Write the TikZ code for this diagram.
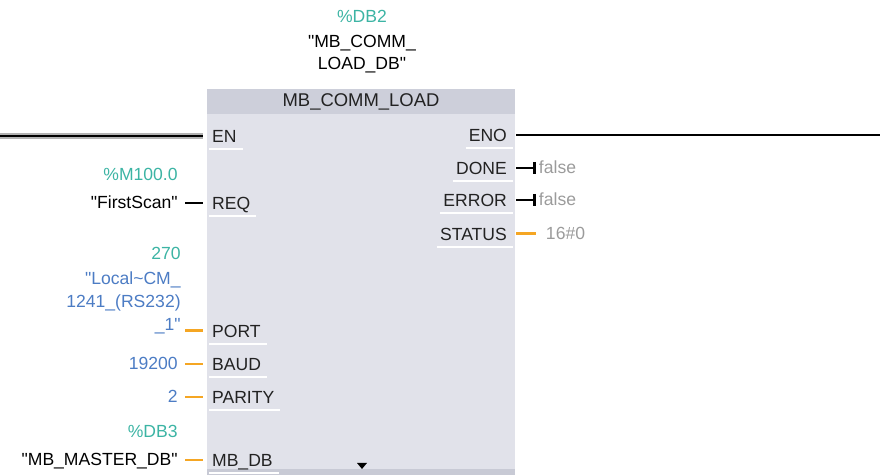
\documentclass[tikz,border=0pt]{standalone}
\usepackage{fontspec}
\setmainfont{Liberation Sans}
\usepackage{tikz}
\usetikzlibrary{arrows.meta,positioning,calc}
\definecolor{fbbody}{HTML}{E1E2EA}
\definecolor{fbhead}{HTML}{CDCFDA}
\definecolor{fbstrip}{HTML}{C8CAD5}
\definecolor{tealtxt}{HTML}{3CB4A4}
\definecolor{bluetxt}{HTML}{4C7CC4}
\definecolor{valgray}{HTML}{9B9B9B}
\definecolor{pintxt}{HTML}{222222}
\definecolor{orangewire}{HTML}{F5A623}
\newcommand{\qt}{\textquotedbl}

\begin{document}
\begin{tikzpicture}[
  x=0.02cm,y=-0.02cm,
  lbl/.style={font=\fontsize{10}{13}\selectfont,inner sep=0pt},
  pinin/.style={lbl,anchor=west,text height=7.2pt,text depth=0pt,inner xsep=5pt,
                inner ysep=3.5pt,text=pintxt},
  pinout/.style={pinin,anchor=east},
  opnd/.style={lbl,anchor=base east,inner xsep=4pt},
  addr/.style={lbl,anchor=base east,text=tealtxt},
  valout/.style={lbl,anchor=base west,inner xsep=1.5pt,text=valgray},
  wire/.style={line width=1.6pt,black},
  owire/.style={line width=1.7pt,orangewire},
  rail/.style={draw=gray!60,double=black,double distance=1.4pt,line width=0.9pt},
  uline/.style={white,line width=0.8pt}
]
  \useasboundingbox (0,0) rectangle (880,475);
  \node[fill=fbbody,minimum width=6.16cm,minimum height=7.72cm,inner sep=0pt] (fb) at (361,282) {};
  \node[fill=fbhead,minimum width=6.16cm,minimum height=0.5cm,inner sep=0pt,anchor=north,
        font=\fontsize{10.5}{13}\selectfont,text=pintxt] (hdr) at (fb.north) {MB\_COMM\_LOAD};
  \fill[fbstrip] ($(fb.south west)+(0,-6)$) rectangle (fb.south east);
  \fill[black] (357,463) -- (367,463) -- (362,469) -- cycle;
  \node[addr,anchor=base] (dbaddr) at (362,23) {\%DB2};
  \node[lbl,align=center,anchor=north] (dbname) at (362,34.5) {\qt MB\_COMM\_\\LOAD\_DB\qt};

  \foreach \p/\t/\y in {en/EN/136,req/REQ/203,port/PORT/331,baud/BAUD/364,parity/PARITY/397,mbdb/MB\_DB/460}
    \node[pinin] (\p) at (203,\y) {\t};
  \foreach \p/\t/\y in {eno/ENO/135,done/DONE/168,error/ERROR/200,status/STATUS/234}
    \node[pinout] (\p) at (516,\y) {\t};
  \foreach \p in {en,req,port,baud,parity,mbdb,eno,done,error,status}
    \draw[uline] ($(\p.south west)+(6,0)$) -- ($(\p.south east)+(-3,0)$);

  \node[addr] (reqaddr) at (178,181) {\%M100.0};
  \node[opnd] (reqop) at (185,209) {\qt FirstScan\qt};
  \node[addr] (portaddr) at (181,260) {270};
  \node[lbl,align=right,anchor=north east,text=bluetxt] (portop) at (181,271.5)
    {\qt Local\textasciitilde CM\_\\1241\_(RS232)\\\_1\qt};
  \node[opnd,text=bluetxt] (baudop) at (185,370) {19200};
  \node[opnd,text=bluetxt] (parityop) at (185,403) {2};
  \node[addr] (mbdbaddr) at (178,438) {\%DB3};
  \node[opnd] (mbdbop) at (185,466) {\qt MB\_MASTER\_DB\qt};
  \node[valout] (doneval) at (536,174) {false};
  \node[valout] (errorval) at (536,206) {false};
  \node[valout] (statusval) at (543,240) {16\#0};

  \coordinate (lrail) at (0,136);
  \coordinate (rrail) at (880,135);
  \draw[rail] (lrail) -- (en.west);
  \draw[wire] (eno.east) -- (rrail);
  \draw[wire] (reqop.east |- req.west) -- (req.west);
  \draw[owire] (reqop.east |- port.west) -- (port.west);
  \foreach \p in {baud,parity,mbdb}
    \draw[owire] (\p op.east |- \p.west) -- (\p.west);
  \foreach \p in {done,error}
    \draw[wire,-{Bar[width=7pt,line width=1.6pt]}] (\p.east) -- (\p.east -| \p val.west);
  \draw[owire,shorten >=4pt] (status.east) -- (status.east -| statusval.west);
\end{tikzpicture}
\end{document}
